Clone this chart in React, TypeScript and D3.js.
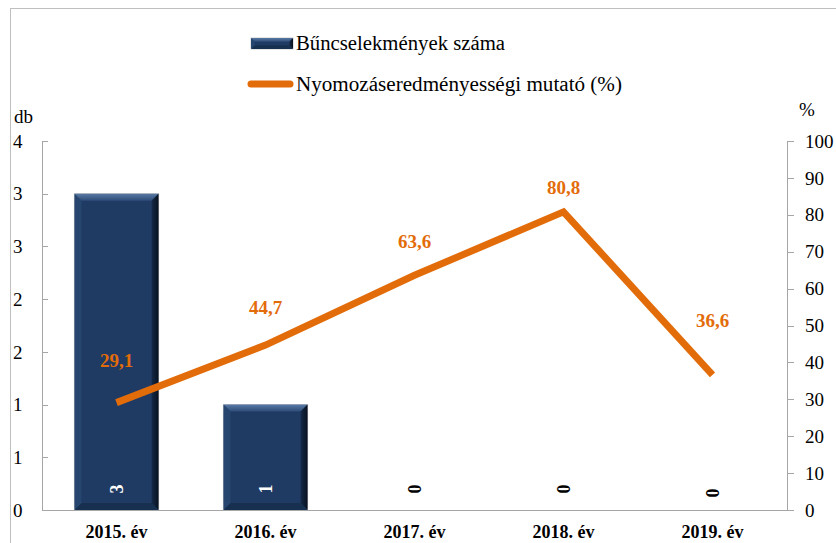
import React from "react";
import * as d3 from "d3";

const categories = ["2015. év", "2016. év", "2017. év", "2018. év", "2019. év"];
const crimeCounts = [3, 1, 0, 0, 0];
const clearanceRate = [29.1, 44.7, 63.6, 80.8, 36.6];
const leftTicks = [0, 0.5, 1, 1.5, 2, 2.5, 3, 3.5];
const rightTicks = [0, 10, 20, 30, 40, 50, 60, 70, 80, 90, 100];
const legendLabels = ["Bűncselekmények száma", "Nyomozáseredményességi mutató (%)"];
// label vertical offsets above points (layout, px)
const labelDy = [42, 38, 34, 24, 55];

const W = 836, H = 543;
const X0 = 42, X1 = 787, Y0 = 510, Y1 = 141;
const ORANGE = "#E36C0A";
const NAVY = "#1F3B63";
const SERIF = "'Liberation Serif', 'Times New Roman', serif";

function BevelBar({ x, y, w, h }: { x: number; y: number; w: number; h: number }) {
  const b = Math.min(7, h / 3);
  return (
    <g>
      <rect x={x} y={y} width={w} height={h} fill={NAVY} stroke="#c9c9c9" strokeWidth={1} />
      <polygon points={`${x},${y} ${x + w},${y} ${x + w - b},${y + b} ${x + b},${y + b}`} fill="url(#bevTop)" />
      <polygon points={`${x + w},${y} ${x + w},${y + h} ${x + w - b},${y + h - b} ${x + w - b},${y + b}`} fill="url(#bevRight)" />
      <polygon points={`${x},${y + h} ${x + w},${y + h} ${x + w - b},${y + h - b} ${x + b},${y + h - b}`} fill="#17304f" />
      <polygon points={`${x},${y} ${x + b},${y + b} ${x + b},${y + h - b} ${x},${y + h}`} fill="#27466f" />
    </g>
  );
}

export default function App() {
  const xBand = d3.scaleBand<string>().domain(categories).range([X0, X1]).padding(0);
  const yL = d3.scaleLinear().domain([0, 3.5]).range([Y0, Y1]);
  const yR = d3.scaleLinear().domain([0, 100]).range([Y0, Y1]);
  const bw = xBand.bandwidth() * 0.565;
  const cx = (c: string) => (xBand(c) as number) + xBand.bandwidth() / 2;

  const line = d3
    .line<number>()
    .x((_, i) => cx(categories[i]))
    .y((d) => yR(d));

  return (
    <svg
      width={W}
      height={H}
      style={{ position: "absolute", left: 0, top: 0, display: "block", background: "#fff" }}
      fontFamily={SERIF}
    >
      <defs>
        <linearGradient id="bevTop" x1="0" y1="0" x2="0" y2="1">
          <stop offset="0" stopColor="#5a7aa6" />
          <stop offset="1" stopColor="#2d4c78" />
        </linearGradient>
        <linearGradient id="bevRight" x1="0" y1="0" x2="1" y2="0">
          <stop offset="0" stopColor="#152a48" />
          <stop offset="1" stopColor="#08111f" />
        </linearGradient>
      </defs>
      <rect x={10.5} y={8.5} width={900} height={600} fill="none" stroke="#bfbfbf" />

      {/* Legend */}
      <BevelBar x={251} y={38} w={42} h={11} />
      <text x={296} y={50} fontSize={20} textLength={209} lengthAdjust="spacingAndGlyphs">
        {legendLabels[0]}
      </text>
      <line x1={251} x2={290} y1={84} y2={84} stroke={ORANGE} strokeWidth={7} strokeLinecap="round" />
      <text x={296} y={91} fontSize={20} textLength={326} lengthAdjust="spacingAndGlyphs">
        {legendLabels[1]}
      </text>

      {/* Axis titles */}
      <text x={14} y={123} fontSize={19}>db</text>
      <text x={799} y={116} fontSize={19}>%</text>

      {/* Bars */}
      {categories.map((c, i) =>
        crimeCounts[i] > 0 ? (
          <BevelBar key={c} x={cx(c) - bw / 2} y={yL(crimeCounts[i])} w={bw} h={Y0 - yL(crimeCounts[i])} />
        ) : null
      )}

      {/* Axes */}
      <line x1={X0 + 0.5} x2={X0 + 0.5} y1={Y1} y2={Y0} stroke="#a6a6a6" />
      <line x1={X1 + 0.5} x2={X1 + 0.5} y1={Y1} y2={Y0} stroke="#a6a6a6" />
      <line x1={X0} x2={X1 + 1} y1={Y0 + 0.5} y2={Y0 + 0.5} stroke="#a6a6a6" />
      {leftTicks.map((t) => (
        <g key={"l" + t}>
          <line x1={X0} x2={X0 + 6} y1={Math.round(yL(t)) + 0.5} y2={Math.round(yL(t)) + 0.5} stroke="#a6a6a6" />
          <text x={13} y={yL(t)} dy="0.35em" fontSize={19}>
            {Math.round(t + 1e-9)}
          </text>
        </g>
      ))}
      {rightTicks.map((t) => (
        <g key={"r" + t}>
          <line x1={X1} x2={X1 + 7} y1={Math.round(yR(t)) + 0.5} y2={Math.round(yR(t)) + 0.5} stroke="#a6a6a6" />
          <text x={805} y={yR(t)} dy="0.35em" fontSize={19}>
            {t}
          </text>
        </g>
      ))}
      {categories.map((c) => (
        <text key={c} x={cx(c)} y={538} textAnchor="middle" fontSize={18} fontWeight="bold">
          {c}
        </text>
      ))}

      {/* Line */}
      <path d={line(clearanceRate) || ""} fill="none" stroke={ORANGE} strokeWidth={7} strokeLinejoin="miter" />

      {/* Line labels */}
      {clearanceRate.map((v, i) => (
        <text
          key={"v" + i}
          x={cx(categories[i])}
          y={yR(v) - labelDy[i]}
          dy="0.35em"
          textAnchor="middle"
          fontSize={19}
          fontWeight="bold"
          fill={ORANGE}
        >
          {d3.format(".1f")(v).replace(".", ",")}
        </text>
      ))}

      {/* Bar labels (rotated) */}
      {crimeCounts.map((v, i) => (
        <text
          key={"b" + i}
          transform={`translate(${cx(categories[i])},${i === 4 ? 493 : 489}) rotate(-90)`}
          dy="0.35em"
          textAnchor="middle"
          fontSize={18}
          fontWeight="bold"
          fill={v > 0 ? "#fff" : "#000"}
        >
          {v}
        </text>
      ))}
    </svg>
  );
}
